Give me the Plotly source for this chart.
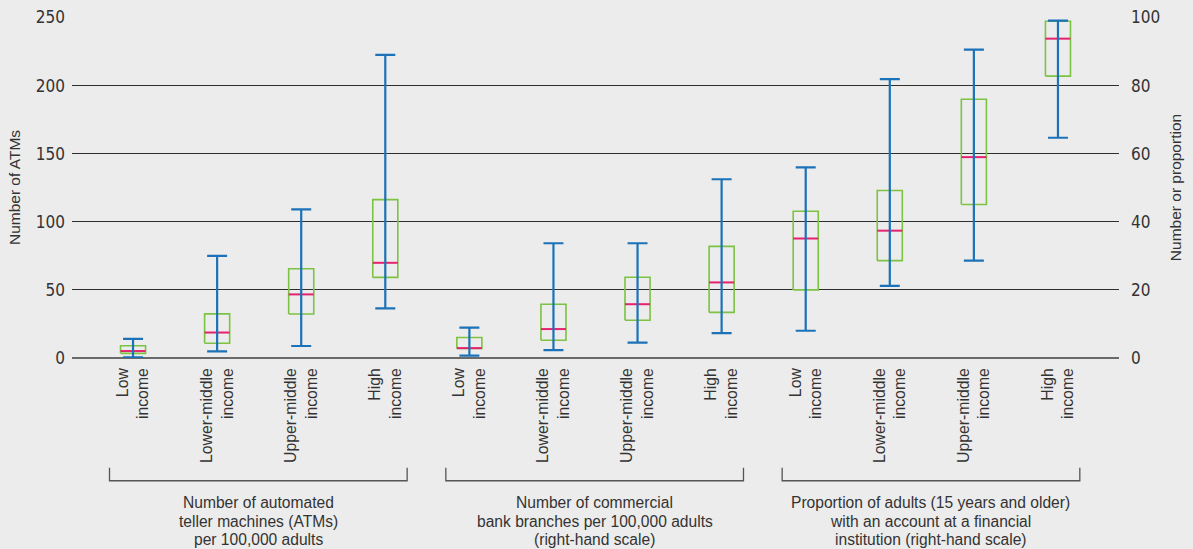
import plotly.graph_objects as go

# Income groups (repeated for each indicator)
income_groups = ["Low<br>income", "Lower-middle<br>income", "Upper-middle<br>income", "High<br>income"]

# ATMs per 100,000 adults (left-hand scale)
atm_min = [0.5, 4.9, 8.8, 36.4]
atm_q1 = [3.4, 10.8, 32.3, 59.2]
atm_med = [5.1, 18.7, 46.7, 69.9]
atm_q3 = [9.0, 32.4, 65.5, 116.3]
atm_max = [14.0, 75.0, 109.2, 222.6]

# Commercial bank branches per 100,000 adults (right-hand scale)
branch_min = [0.7, 2.3, 4.5, 7.3]
branch_q1 = [2.8, 5.2, 11.1, 13.4]
branch_med = [2.9, 8.5, 15.8, 22.2]
branch_q3 = [6.0, 15.8, 23.7, 32.8]
branch_max = [8.9, 33.7, 33.7, 52.5]

# Adults with an account at a financial institution, % (right-hand scale)
account_min = [8.0, 21.2, 28.6, 64.7]
account_q1 = [20.0, 28.6, 45.1, 82.8]
account_med = [35.1, 37.4, 59.0, 93.8]
account_q3 = [43.1, 49.2, 76.0, 98.9]
account_max = [56.0, 81.9, 90.6, 99.1]

group_titles = [
    ["Number of automated", "teller machines (ATMs)", "per 100,000 adults"],
    ["Number of commercial", "bank branches per 100,000 adults", "(right-hand scale)"],
    ["Proportion of adults (15 years and older)", "with an account at a financial",
     "institution (right-hand scale)"],
]

BLUE = "#1b72b8"
GREEN = "#7cc243"
PINK = "#e5226f"
BG = "#ececec"
TEXT = "#333333"
FONT = "Liberation Sans, Arial, sans-serif"
NARROW = "Liberation Sans Narrow, DejaVu Sans Condensed, Arial Narrow, sans-serif"

HALF_BOX = 0.149  # half width of a box, in category units
Y_TOP = 250.4     # a hair above 250 so the top gridline is kept
PLOT_H = 341      # plot-area height in px, used to place captions
CAPTION_ROWS = [144, 163, 181.5]  # caption line centres, px below the plot area

groups = [
    ("y", atm_min, atm_q1, atm_med, atm_q3, atm_max),
    ("y2", branch_min, branch_q1, branch_med, branch_q3, branch_max),
    ("y2", account_min, account_q1, account_med, account_q3, account_max),
]

fig = go.Figure()
tickvals, ticktext = [], []

for g, (yax, lo, q1, med, q3, hi) in enumerate(groups):
    xs = [g * 4 + k for k in range(4)]
    tickvals += xs
    ticktext += income_groups

    bx, by, mx, my = [], [], [], []
    for x, a, m, b in zip(xs, q1, med, q3):
        bx += [x - HALF_BOX, x + HALF_BOX, x + HALF_BOX, x - HALF_BOX, x - HALF_BOX, None]
        by += [a, a, b, b, a, None]
        mx += [x - HALF_BOX, x + HALF_BOX, None]
        my += [m, m, None]

    # interquartile boxes
    fig.add_trace(go.Scatter(x=bx, y=by, mode="lines", yaxis=yax,
                             line=dict(color=GREEN, width=1.6),
                             hoverinfo="skip", showlegend=False))
    # medians
    fig.add_trace(go.Scatter(x=mx, y=my, mode="lines", yaxis=yax,
                             line=dict(color=PINK, width=2),
                             hoverinfo="skip", showlegend=False))
    # whiskers with caps
    fig.add_trace(go.Scatter(
        x=xs, y=med, mode="markers", yaxis=yax,
        marker=dict(size=1, color="rgba(0,0,0,0)"),
        error_y=dict(type="data", symmetric=False,
                     array=[h - m for h, m in zip(hi, med)],
                     arrayminus=[m - l for m, l in zip(med, lo)],
                     color=BLUE, thickness=2.2, width=10),
        hoverinfo="skip", showlegend=False))

    # bracket and caption beneath each indicator
    x0, x1 = xs[0] - 0.28, xs[-1] + 0.26
    fig.add_shape(type="path", xref="x", yref="paper",
                  path=f"M {x0},-0.322 L {x0},-0.36 L {x1},-0.36 L {x1},-0.322",
                  line=dict(color="#555555", width=1.3))
    for line_text, row in zip(group_titles[g], CAPTION_ROWS):
        fig.add_annotation(x=(x0 + x1) / 2, y=-row / PLOT_H, xref="x", yref="paper",
                           text=line_text, showarrow=False,
                           xanchor="center", yanchor="middle", align="center",
                           font=dict(family=FONT, size=15.6, color=TEXT))

fig.update_layout(
    width=1193, height=549,
    margin=dict(l=72, r=74, t=17, b=191),
    paper_bgcolor=BG, plot_bgcolor=BG,
    showlegend=False,
    xaxis=dict(range=[-0.726, 11.726], tickmode="array", tickvals=tickvals,
               ticktext=ticktext, tickangle=-90, showgrid=False, zeroline=False,
               showline=False, ticks="", ticklabelstandoff=6, automargin=False,
               tickfont=dict(family=FONT, size=15.8, color=TEXT)),
    yaxis=dict(range=[0, Y_TOP], tickvals=[0, 50, 100, 150, 200, 250],
               showgrid=True, gridcolor="#2e2e2e", gridwidth=1.3,
               zeroline=True, zerolinecolor="#6a6a6a", zerolinewidth=2,
               ticks="", ticklabelstandoff=6, automargin=False,
               tickfont=dict(family=NARROW, size=17, color=TEXT),
               title=dict(text="Number of ATMs", standoff=11,
                          font=dict(family=FONT, size=15.5, color=TEXT))),
    yaxis2=dict(range=[0, Y_TOP / 2.5], tickvals=[0, 20, 40, 60, 80, 100],
                overlaying="y", side="right", showgrid=False, zeroline=False,
                ticks="", ticklabelstandoff=11, automargin=False,
                tickfont=dict(family=NARROW, size=17, color=TEXT),
                title=dict(text="Number or proportion", standoff=10,
                           font=dict(family=FONT, size=15.5, color=TEXT))),
)

fig.write_html("out.html")
